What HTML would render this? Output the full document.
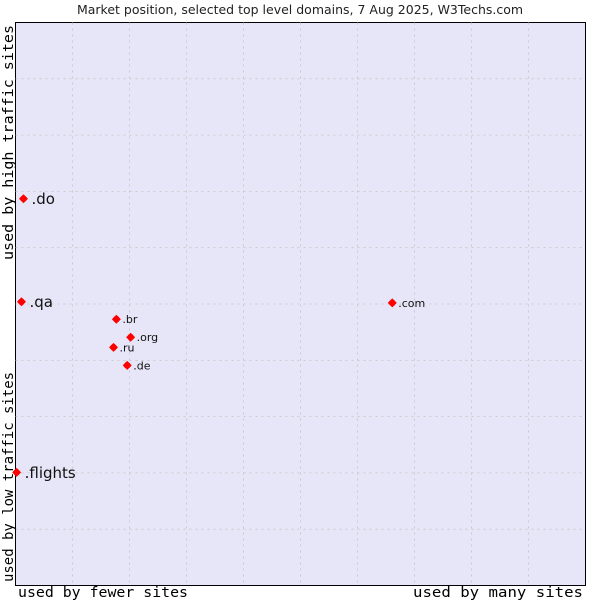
<!DOCTYPE html>
<html><head><meta charset="utf-8"><style>
body{margin:0;background:#fff;width:600px;height:600px;overflow:hidden}
svg text{font-family:"DejaVu Sans","Liberation Sans",sans-serif}
.mono{font-family:"DejaVu Sans Mono","Liberation Mono",monospace}
</style></head><body>
<svg id="chart" width="600" height="600">
<text x="300" y="14" text-anchor="middle" font-size="12.5" fill="#222">Market position, selected top level domains, 7 Aug 2025, W3Techs.com</text>
<rect x="15.5" y="22.5" width="570" height="563" fill="#e6e6f8" stroke="#000"/>
<g id="grid"></g>
<g id="points"></g>
<text class="mono" x="18" y="597" font-size="14" textLength="170" lengthAdjust="spacingAndGlyphs" fill="#000">used by fewer sites</text>
<text class="mono" x="413" y="597" font-size="14" textLength="170" lengthAdjust="spacingAndGlyphs" fill="#000">used by many sites</text>
<text class="mono" transform="translate(13,260) rotate(-90)" font-size="14" textLength="235" lengthAdjust="spacingAndGlyphs" fill="#000">used by high traffic sites</text>
<text class="mono" transform="translate(13,582) rotate(-90)" font-size="14" textLength="210" lengthAdjust="spacingAndGlyphs" fill="#000">used by low traffic sites</text>
</svg>
<script>
const domains=[".do",".qa",".flights",".com",".br",".org",".ru",".de"];
const xValues=[1.4,1.05,0.2,66.1,17.7,20.2,17.2,19.6];
const yValues=[68.7,50.4,20.1,50.2,47.3,44.1,42.3,39.1];
const bigLabel=[true,true,true,false,false,false,false,false];
const L=15.5,R=585.5,T=22.5,B=585.5;
const sx=v=>L+v/100*(R-L);
const sy=v=>B-v/100*(B-T);
const NS="http://www.w3.org/2000/svg";
const grid=document.getElementById('grid');
for(let i=1;i<10;i++){
  const v=document.createElementNS(NS,'line');
  v.setAttribute('x1',sx(i*10));v.setAttribute('x2',sx(i*10));v.setAttribute('y1',T);v.setAttribute('y2',B);
  v.setAttribute('stroke','#c4c4c4');v.setAttribute('stroke-width','0.8');v.setAttribute('stroke-dasharray','2,4');
  
  
  grid.appendChild(v);
  const h=document.createElementNS(NS,'line');
  h.setAttribute('y1',sy(i*10));h.setAttribute('y2',sy(i*10));h.setAttribute('x1',L);h.setAttribute('x2',R);
  h.setAttribute('stroke','#c4c4c4');h.setAttribute('stroke-width','0.8');h.setAttribute('stroke-dasharray','2,4');
  
  
  grid.appendChild(h);
}
const pts=document.getElementById('points');
domains.forEach((d,i)=>{
  const x=sx(xValues[i]),y=sy(yValues[i]);
  const m=document.createElementNS(NS,'path');
  m.setAttribute('d',`M${x} ${y-4.5}L${x+4.5} ${y}L${x} ${y+4.5}L${x-4.5} ${y}Z`);
  m.setAttribute('fill','#f00');
  
  
  pts.appendChild(m);
  const c=document.createElementNS(NS,'circle');
  c.setAttribute('cx',x);c.setAttribute('cy',y);c.setAttribute('r',3.3);c.setAttribute('fill','#f00');
  
  
  pts.appendChild(c);
  const t=document.createElementNS(NS,'text');
  t.setAttribute('x',x+(bigLabel[i]?8:6));
  t.setAttribute('y',y+(bigLabel[i]?5.5:4));
  t.setAttribute('font-size',bigLabel[i]?15:11);
  t.setAttribute('fill','#111');
  t.textContent=d;
  
  
  pts.appendChild(t);
});
</script>
</body></html>
